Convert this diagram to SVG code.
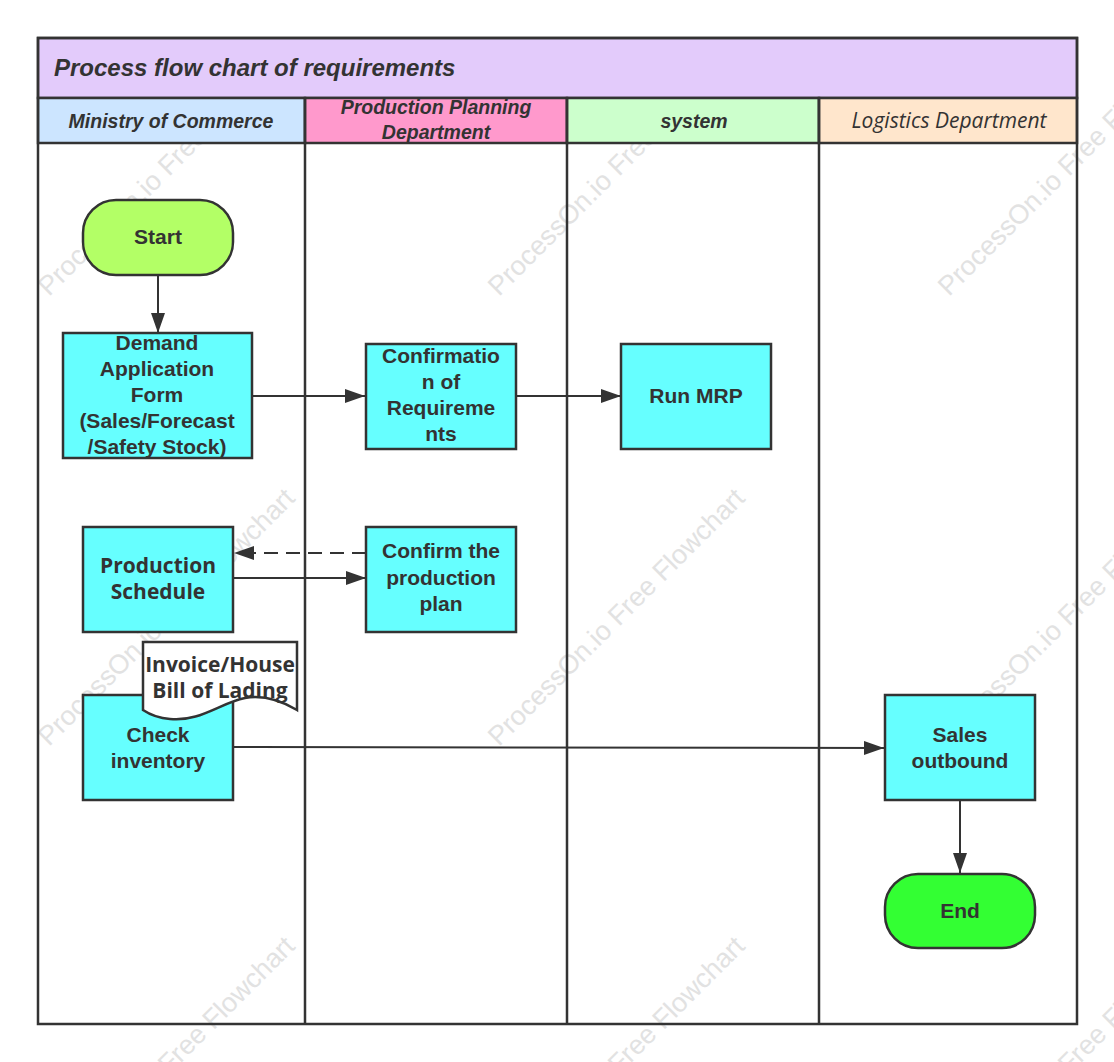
<svg xmlns="http://www.w3.org/2000/svg" width="1114" height="1062" viewBox="0 0 1114 1062">
<defs>
<style>
.wm{font-family:"Liberation Sans",Arial,sans-serif;font-size:27px;fill:#e2e2e2;}
.frame{fill:none;stroke:#333;stroke-width:2.5;}
.hdr{stroke:#333;stroke-width:2.5;}
.proc{fill:#66ffff;stroke:#333;stroke-width:2.5;}
.t{font-family:"Liberation Sans",Arial,sans-serif;font-weight:bold;font-size:21px;fill:#333;text-anchor:middle;}
.t2{font-family:"Open Sans","Noto Sans",sans-serif;font-weight:bold;font-size:21px;fill:#333;text-anchor:middle;}
.lh{font-family:"Liberation Sans",Arial,sans-serif;font-weight:bold;font-style:italic;font-size:19.5px;fill:#333;text-anchor:middle;}
.conn{fill:none;stroke:#333;stroke-width:2;}
</style>
<marker id="arr" viewBox="0 0 20 14" refX="20" refY="7" markerWidth="20" markerHeight="14" markerUnits="userSpaceOnUse" orient="auto">
<path d="M0,0 L20,7 L0,14 Z" fill="#333"/>
</marker>
</defs>
<rect width="1114" height="1062" fill="#ffffff"/>
<g id="watermarks">
<text class="wm" transform="translate(49,297) rotate(-45)">ProcessOn.io Free Flowchart</text>
<text class="wm" transform="translate(499,297) rotate(-45)">ProcessOn.io Free Flowchart</text>
<text class="wm" transform="translate(949,297) rotate(-45)">ProcessOn.io Free Flowchart</text>
<text class="wm" transform="translate(49,747) rotate(-45)">ProcessOn.io Free Flowchart</text>
<text class="wm" transform="translate(499,747) rotate(-45)">ProcessOn.io Free Flowchart</text>
<text class="wm" transform="translate(949,747) rotate(-45)">ProcessOn.io Free Flowchart</text>
<text class="wm" transform="translate(49,1195) rotate(-45)">ProcessOn.io Free Flowchart</text>
<text class="wm" transform="translate(499,1195) rotate(-45)">ProcessOn.io Free Flowchart</text>
<text class="wm" transform="translate(949,1195) rotate(-45)">ProcessOn.io Free Flowchart</text>
</g>
<g id="pool">
<rect x="38" y="38" width="1039" height="60" fill="#e3cbfb" class="hdr"/>
<text x="54" y="76" font-family="Liberation Sans, Arial, sans-serif" font-weight="bold" font-style="italic" font-size="24" fill="#333">Process flow chart of requirements</text>
<rect x="38" y="98" width="267" height="45" fill="#cce5ff" class="hdr"/>
<rect x="305" y="98" width="262" height="45" fill="#ff99cc" class="hdr"/>
<rect x="567" y="98" width="252" height="45" fill="#ccffcc" class="hdr"/>
<rect x="819" y="98" width="258" height="45" fill="#ffe6cc" class="hdr"/>
<text class="lh" x="171" y="128">Ministry of Commerce</text>
<text class="lh" x="436" y="114">Production Planning</text>
<text class="lh" x="436" y="139">Department</text>
<text class="lh" x="694" y="128">system</text>
<text x="949" y="128" font-family="Open Sans, Noto Sans, sans-serif" font-style="italic" font-size="21" fill="#333" text-anchor="middle">Logistics Department</text>
<rect x="38" y="38" width="1039" height="986" class="frame"/>
<line x1="305" y1="98" x2="305" y2="1024" class="frame"/>
<line x1="567" y1="98" x2="567" y2="1024" class="frame"/>
<line x1="819" y1="98" x2="819" y2="1024" class="frame"/>
</g>
<g id="connectors">
<line x1="158" y1="275" x2="158" y2="333" class="conn" marker-end="url(#arr)"/>
<line x1="252" y1="396" x2="365" y2="396" class="conn" marker-end="url(#arr)"/>
<line x1="516" y1="396" x2="621" y2="396" class="conn" marker-end="url(#arr)"/>
<line x1="366" y1="553" x2="234" y2="553" class="conn" stroke-dasharray="14 8" marker-end="url(#arr)"/>
<line x1="233" y1="578" x2="366" y2="578" class="conn" marker-end="url(#arr)"/>
<line x1="233" y1="747" x2="884" y2="748" class="conn" marker-end="url(#arr)"/>
<line x1="960" y1="800" x2="960" y2="873" class="conn" marker-end="url(#arr)"/>
</g>
<g id="n-start">
<rect x="83" y="200" width="150" height="75" rx="33" ry="33" fill="#b3ff66" stroke="#333" stroke-width="2.5"/>
<text class="t" x="158" y="244">Start</text>
</g>
<g id="n-demand">
<rect x="63" y="333" width="189" height="125" class="proc"/>
<text class="t" x="157" y="350">Demand</text>
<text class="t" x="157" y="376">Application</text>
<text class="t" x="157" y="402">Form</text>
<text class="t" x="157" y="428">(Sales/Forecast</text>
<text class="t" x="157" y="454">/Safety Stock)</text>
</g>
<g id="n-confirm-req">
<rect x="366" y="344" width="150" height="105" class="proc"/>
<text class="t" x="441" y="363">Confirmatio</text>
<text class="t" x="441" y="389">n of</text>
<text class="t" x="441" y="415">Requireme</text>
<text class="t" x="441" y="441">nts</text>
</g>
<g id="n-mrp">
<rect x="621" y="344" width="150" height="105" class="proc"/>
<text class="t" x="696" y="403">Run MRP</text>
</g>
<g id="n-schedule">
<rect x="83" y="527" width="150" height="105" class="proc"/>
<text class="t2" x="158" y="573">Production</text>
<text class="t2" x="158" y="599">Schedule</text>
</g>
<g id="n-confirm-plan">
<rect x="366" y="527" width="150" height="105" class="proc"/>
<text class="t" x="441" y="558">Confirm the</text>
<text class="t" x="441" y="585">production</text>
<text class="t" x="441" y="611">plan</text>
</g>
<g id="n-check">
<rect x="83" y="695" width="150" height="105" class="proc"/>
<text class="t" x="158" y="742">Check</text>
<text class="t" x="158" y="768">inventory</text>
</g>
<g id="n-invoice">
<path d="M143,642 L297,642 L297,710 C280,700 262,695 245,698 C220,703 200,722 170,719 C157,718 149,714 143,710 Z" fill="#ffffff" stroke="#333" stroke-width="2.5"/>
<text class="t2" x="220" y="672">Invoice/House</text>
<text class="t2" x="220" y="698">Bill of Lading</text>
</g>
<g id="n-sales">
<rect x="885" y="695" width="150" height="105" class="proc"/>
<text class="t" x="960" y="742">Sales</text>
<text class="t" x="960" y="768">outbound</text>
</g>
<g id="n-end">
<rect x="885" y="874" width="150" height="74" rx="33" ry="33" fill="#33ff33" stroke="#333" stroke-width="2.5"/>
<text class="t" x="960" y="918">End</text>
</g>
</svg>
